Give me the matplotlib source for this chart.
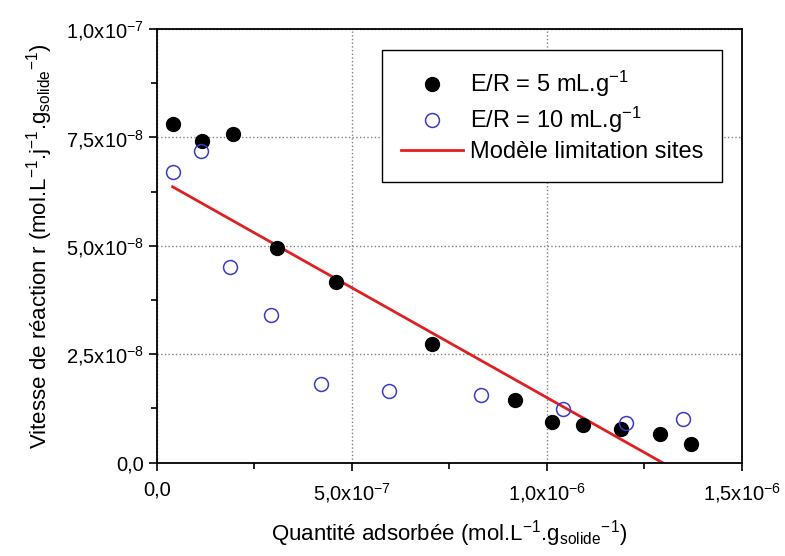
import numpy as np
import matplotlib.pyplot as plt
from matplotlib.ticker import MultipleLocator, FuncFormatter

plt.rcParams['font.family'] = ['Liberation Sans', 'DejaVu Sans']
plt.rcParams['mathtext.default'] = 'regular'

# E/R = 5 mL/g
x_5 = [4.0e-8, 1.16e-7, 1.96e-7, 3.08e-7, 4.58e-7, 7.05e-7,
       9.18e-7, 1.013e-6, 1.092e-6, 1.191e-6, 1.29e-6, 1.37e-6]
r_5 = [7.80e-8, 7.42e-8, 7.57e-8, 4.95e-8, 4.16e-8, 2.74e-8,
       1.44e-8, 0.93e-8, 0.876e-8, 0.78e-8, 0.65e-8, 0.42e-8]

# E/R = 10 mL/g
x_10 = [4.1e-8, 1.14e-7, 1.86e-7, 2.93e-7, 4.20e-7, 5.96e-7,
        8.32e-7, 1.042e-6, 1.202e-6, 1.35e-6]
r_10 = [6.70e-8, 7.18e-8, 4.51e-8, 3.40e-8, 1.81e-8, 1.65e-8,
        1.57e-8, 1.23e-8, 0.915e-8, 1.0e-8]

# modele limitation sites
x_mod = [4.0e-8, 1.296e-6]
r_mod = [6.36e-8, 0.0]


def fmt(v, pos):
    if v == 0:
        return "0,0"
    e = int(np.floor(np.log10(abs(v)) + 1e-9))
    m = v / 10**e
    return ("%.1f" % m).replace(".", ",") + "x10$^{%d}$" % e


fig = plt.figure(figsize=(7.85, 5.56), dpi=100)
ax = fig.add_axes([0.2, 0.168, 0.745, 0.78])

ax.plot(x_5, r_5, 'o', color='black', markersize=10, label='E/R = 5 mL.g$^{-1}$', zorder=3)
ax.plot(x_10, r_10, 'o', mfc='none', mec='#3b3bc8', mew=1.1, markersize=10,
        label='E/R = 10 mL.g$^{-1}$', zorder=3)
ax.plot(x_mod, r_mod, '-', color='#e02020', lw=2, label='Modèle limitation sites', zorder=2)

ax.set_xlim(0, 1.5e-6)
ax.set_ylim(0, 1.0e-7)
ax.xaxis.set_major_locator(MultipleLocator(5e-7))
ax.xaxis.set_minor_locator(MultipleLocator(2.5e-7))
ax.yaxis.set_major_locator(MultipleLocator(2.5e-8))
ax.yaxis.set_minor_locator(MultipleLocator(1.25e-8))
ax.xaxis.set_major_formatter(FuncFormatter(fmt))
ax.yaxis.set_major_formatter(FuncFormatter(fmt))
ax.xaxis.get_offset_text().set_visible(False)
ax.yaxis.get_offset_text().set_visible(False)

ax.tick_params(which='both', direction='out', labelsize=14.5, width=1.2)
ax.tick_params(which='major', length=6)
ax.tick_params(which='minor', length=4)
ax.tick_params(axis='x', pad=7)
ax.grid(True, which='major', linestyle=':', color='gray', lw=1)
for s in ax.spines.values():
    s.set_linewidth(1.3)

ax.set_xlabel('Quantité adsorbée (mol.L$^{-1}$.g$_{solide}$$^{-1}$)', fontsize=16, labelpad=10)
ax.set_ylabel('Vitesse de réaction r (mol.L$^{-1}$.j$^{-1}$.g$_{solide}$$^{-1}$)', fontsize=16, labelpad=8)

leg = ax.legend(loc='upper right', bbox_to_anchor=(0.966, 0.951), borderaxespad=0,
                fontsize=17, frameon=True, fancybox=False, edgecolor='black', framealpha=1,
                handlelength=2.6, handletextpad=0.3, borderpad=0.8, labelspacing=0.25)
leg.get_frame().set_linewidth(1.0)

fig.savefig('out.png', dpi=100)
